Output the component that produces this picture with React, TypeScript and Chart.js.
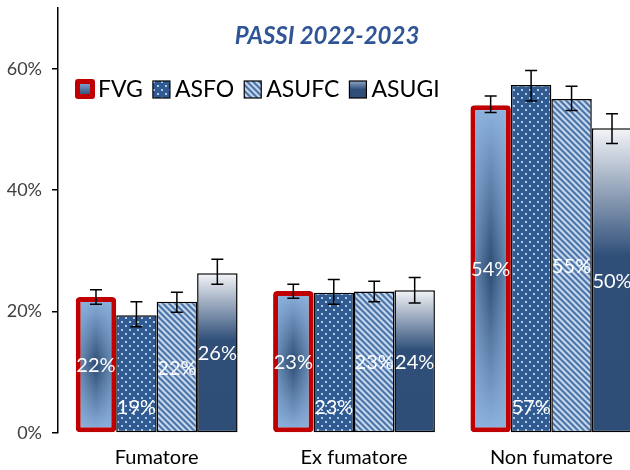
import React, { useEffect, useRef } from "react";
import { Chart, registerables } from "chart.js";
Chart.register(...registerables);

const categories = ["Fumatore", "Ex fumatore", "Non fumatore"];
const seriesNames = ["FVG", "ASFO", "ASUFC", "ASUGI"];
const fvgValues = [22.4, 23.4, 54.0];
const asfoValues = [19.4, 23.1, 57.3];
const asufcValues = [21.6, 23.3, 55.0];
const asugiValues = [26.3, 23.5, 50.2];
const fvgLow = [21.2, 22.2, 52.8];
const fvgHigh = [23.6, 24.5, 55.5];
const asfoLow = [17.5, 21.2, 54.7];
const asfoHigh = [21.6, 25.3, 59.7];
const asufcLow = [19.9, 21.6, 53.1];
const asufcHigh = [23.2, 25.0, 57.1];
const asugiLow = [24.5, 21.4, 47.7];
const asugiHigh = [28.6, 25.6, 52.6];
const yTickValues = [0, 20, 40, 60];
const titleText = "PASSI 2022-2023";

const FONT = "Lato, 'Open Sans', sans-serif";

function makeDots(): CanvasPattern {
  const c = document.createElement("canvas");
  c.width = 8;
  c.height = 8;
  const g = c.getContext("2d")!;
  g.fillStyle = "#2F5B92";
  g.fillRect(0, 0, 8, 8);
  g.fillStyle = "#B4C9E4";
  g.fillRect(1, 1, 2, 2);
  g.fillRect(5, 5, 2, 2);
  return g.createPattern(c, "repeat")!;
}

function makeStripes(): CanvasPattern {
  const s = 6;
  const c = document.createElement("canvas");
  c.width = s;
  c.height = s;
  const g = c.getContext("2d")!;
  const cols = ["#C6D7EC", "#C6D7EC", "#88A6CC", "#4A73A8", "#4A73A8", "#88A6CC"];
  for (let x = 0; x < s; x++) {
    for (let y = 0; y < s; y++) {
      const d = (x - y + s * 2) % s;
      g.fillStyle = cols[d];
      g.fillRect(x, y, 1, 1);
    }
  }
  return g.createPattern(c, "repeat")!;
}

export default function App() {
  const ref = useRef<HTMLCanvasElement>(null);

  useEffect(() => {
    const canvas = ref.current!;
    const dots = makeDots();
    const stripes = makeStripes();
    const lows = [fvgLow, asfoLow, asufcLow, asugiLow];
    const highs = [fvgHigh, asfoHigh, asufcHigh, asugiHigh];

    const barRange = (c: any) => {
      const ys = c.chart.scales?.y;
      if (!ys || c.type !== "data") return null;
      const top = ys.getPixelForValue(c.raw);
      const base = ys.getPixelForValue(0);
      if (!Number.isFinite(top) || !Number.isFinite(base) || top === base) return null;
      return { top, base };
    };

    const fvgFill = (c: any) => {
      const r = barRange(c);
      if (!r) return "#5B82B0";
      const g = c.chart.ctx.createLinearGradient(0, r.top, 0, r.base);
      g.addColorStop(0, "#8EB4E0");
      g.addColorStop(0.5, "#2C4B72");
      g.addColorStop(1, "#8EB4E0");
      return g;
    };
    const asugiFill = (c: any) => {
      const r = barRange(c);
      if (!r) return "#2E4E78";
      const g = c.chart.ctx.createLinearGradient(0, r.top, 0, r.base);
      g.addColorStop(0, "#F4F5F8");
      g.addColorStop(0.42, "#2F4F79");
      g.addColorStop(1, "#2E4E78");
      return g;
    };

    const drawBox = (ctx: CanvasRenderingContext2D, i: number, x: number, y: number) => {
      if (i === 0) {
        ctx.fillStyle = "#C00000";
        ctx.beginPath();
        (ctx as any).roundRect(x, y - 10, 20, 20, 3);
        ctx.fill();
        const g = ctx.createLinearGradient(0, y - 6, 0, y + 6);
        g.addColorStop(0, "#7FA6D6");
        g.addColorStop(1, "#2D4D75");
        ctx.fillStyle = g;
        ctx.fillRect(x + 5, y - 5, 10, 10);
      } else {
        const bx = x + 1, by = y - 8, s = 17;
        if (i === 1) ctx.fillStyle = dots;
        else if (i === 2) ctx.fillStyle = stripes;
        else {
          const g = ctx.createLinearGradient(0, by, 0, by + s);
          g.addColorStop(0, "#8DA5C4");
          g.addColorStop(0.5, "#2F4F79");
          g.addColorStop(1, "#2E4E78");
          ctx.fillStyle = g;
        }
        ctx.fillRect(bx, by, s, s);
        ctx.strokeStyle = "#000";
        ctx.lineWidth = 1.2;
        ctx.strokeRect(bx, by, s, s);
      }
    };

    const plugin = {
      id: "custom",
      afterDatasetDraw(chart: any, args: any) {
        if (args.index !== 0) return;
        const ctx = chart.ctx as CanvasRenderingContext2D;
        args.meta.data.forEach((el: any) => {
          const { x, y, base, width } = el.getProps(["x", "y", "base", "width"], true);
          const l = x - width / 2 + 5, r = x + width / 2 - 5, t = y + 5, b = base - 5;
          if (![l, r, t, b].every(Number.isFinite)) return;
          ctx.save();
          const g = ctx.createLinearGradient(l, 0, r, 0);
          g.addColorStop(0, "rgba(142,180,224,0.55)");
          g.addColorStop(0.5, "rgba(142,180,224,0)");
          g.addColorStop(1, "rgba(142,180,224,0.55)");
          ctx.fillStyle = g;
          ctx.fillRect(l, t, r - l, b - t);
          ctx.restore();
        });
      },
      afterDatasetsDraw(chart: any) {
        const ctx = chart.ctx as CanvasRenderingContext2D;
        const ys = chart.scales.y;
        ctx.save();
        chart.data.datasets.forEach((ds: any, i: number) => {
          const meta = chart.getDatasetMeta(i);
          meta.data.forEach((el: any, j: number) => {
            const { x, y, base } = el.getProps(["x", "y", "base"], true);
            ctx.fillStyle = "#FFFFFF";
            ctx.font = `20px ${FONT}`;
            ctx.textAlign = "center";
            ctx.textBaseline = "middle";
            const txt = Math.round(ds.data[j]) + "%";
            const ly = i === 1 ? base - 25 : (y + base) / 2 + 1;
            ctx.fillText(txt, x, ly);
            const yl = ys.getPixelForValue(lows[i][j]);
            const yh = ys.getPixelForValue(highs[i][j]);
            ctx.strokeStyle = "#000";
            ctx.lineWidth = 1.5;
            ctx.beginPath();
            ctx.moveTo(x, yl);
            ctx.lineTo(x, yh);
            ctx.moveTo(x - 6, yl);
            ctx.lineTo(x + 6, yl);
            ctx.moveTo(x - 6, yh);
            ctx.lineTo(x + 6, yh);
            ctx.stroke();
          });
        });
        ctx.restore();
      },
      afterDraw(chart: any) {
        const ctx = chart.ctx as CanvasRenderingContext2D;
        ctx.save();
        ctx.fillStyle = "#2F5597";
        ctx.font = `italic bold 24px ${FONT}`;
        ctx.textAlign = "center";
        ctx.textBaseline = "middle";
        ctx.fillText(titleText, 327, 36);
        ctx.font = `23px ${FONT}`;
        ctx.textAlign = "left";
        let x = 75;
        const y = 89;
        seriesNames.forEach((name, i) => {
          drawBox(ctx, i, x, y);
          ctx.fillStyle = "#000";
          ctx.textBaseline = "middle";
          const tx = x + 23;
          ctx.fillText(name, tx, y + 1);
          x = tx + ctx.measureText(name).width + 9;
        });
        ctx.restore();
      },
    };

    const chart = new Chart(canvas, {
      type: "bar",
      data: {
        labels: categories,
        datasets: [
          { label: seriesNames[0], data: fvgValues, backgroundColor: fvgFill, borderColor: "#C00000", borderWidth: 5, borderRadius: 4, borderSkipped: false },
          { label: seriesNames[1], data: asfoValues, backgroundColor: dots, borderColor: "#000", borderWidth: 1.5, borderSkipped: false },
          { label: seriesNames[2], data: asufcValues, backgroundColor: stripes, borderColor: "#000", borderWidth: 1.5, borderSkipped: false },
          { label: seriesNames[3], data: asugiValues, backgroundColor: asugiFill, borderColor: "#000", borderWidth: 1.5, borderSkipped: false },
        ] as any,
      },
      options: {
        responsive: false,
        animation: false,
        devicePixelRatio: 1,
        layout: { padding: { top: 8, left: 0, right: 0, bottom: 0 } },
        datasets: { bar: { barPercentage: 1, categoryPercentage: 0.82 } },
        plugins: { legend: { display: false }, title: { display: false }, tooltip: { enabled: false } },
        scales: {
          x: {
            grid: { display: false, drawTicks: false },
            border: { display: false },
            ticks: { font: { family: FONT, size: 20 }, color: "#000", padding: 13 },
            afterFit: (a: any) => { a.height = 37; a.paddingLeft = 0; a.paddingRight = 0; },
          },
          y: {
            min: 0,
            max: 70,
            afterBuildTicks: (a: any) => { a.ticks = yTickValues.map((v) => ({ value: v })); },
            afterFit: (a: any) => { a.width = 58; a.paddingTop = 0; a.paddingBottom = 0; },
            grid: { drawOnChartArea: false, drawTicks: true, tickLength: 6, color: "#000", lineWidth: 1.5 },
            border: { display: true, color: "#000", width: 1.5 },
            ticks: { callback: (v: any) => v + "%", font: { family: FONT, size: 18 }, color: "#404040", padding: 10 },
          },
        },
      } as any,
      plugins: [plugin],
    });
    chart.update();
    return () => chart.destroy();
  }, []);

  return (
    <div style={{ position: "absolute", left: 0, top: 0, width: 630, height: 470, overflow: "hidden", background: "#fff" }}>
      <canvas ref={ref} width={650} height={470} style={{ display: "block", width: 650, height: 470 }} />
    </div>
  );
}
